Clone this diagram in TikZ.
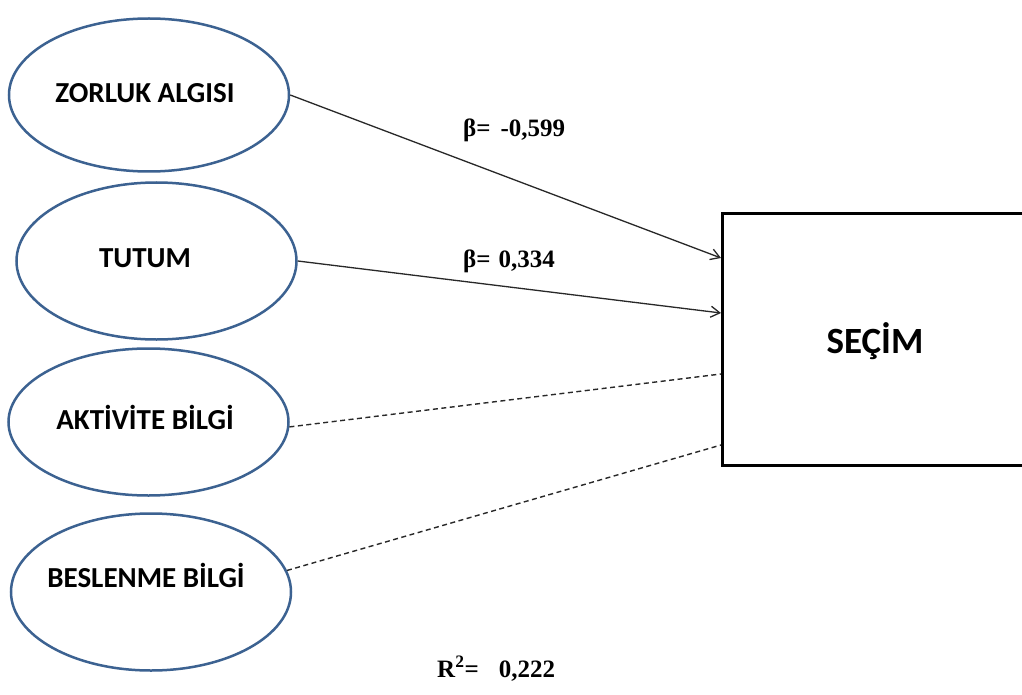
\documentclass[tikz,border=0pt]{standalone}
\usepackage{fontspec}
\setmainfont{Liberation Serif}
\newfontfamily\boxfont{Carlito}
\usetikzlibrary{shapes.geometric,arrows.meta}

\definecolor{latentblue}{RGB}{60,98,145}
\definecolor{pathgray}{RGB}{40,40,40}

\begin{document}
\begin{tikzpicture}[x=1pt,y=-1pt,
  latent/.style={ellipse, draw=latentblue, line width=2.5pt, inner sep=0pt,
                 minimum width=280pt, fill=white},
  varname/.style={font=\boxfont\bfseries\fontsize{29}{32}\selectfont, anchor=base, inner sep=0pt},
  coef/.style={font=\bfseries\fontsize{25}{28}\selectfont, anchor=base west, inner sep=0pt},
  effect/.style={draw=pathgray, line width=1.3pt, -{Straight Barb[length=9pt,width=11pt,line width=1.3pt]}},
  noeffect/.style={draw=pathgray, line width=1.4pt, dash pattern=on 5pt off 3.5pt}]

  \clip (0,0) rectangle (1022,695);
  \fill[white] (0,0) rectangle (1022,695);

  % predictors
  \node[latent, minimum height=153pt] (zor) at (149,95) {};
  \node[latent, minimum height=157pt] (tut) at (156.5,261) {};
  \node[latent, minimum height=147pt] (akt) at (148.5,422) {};
  \node[latent, minimum height=157pt] (bes) at (151,592) {};

  \node[varname] (tzor) at (145,103) {ZORLUK ALGISI};
  \node[varname] (ttut) at (145,267) {TUTUM};
  \node[varname] (takt) at (145,429) {AKTİVİTE BİLGİ};
  \node[varname] (tbes) at (146,587) {BESLENME BİLGİ};

  % outcome
  \node[draw, line width=3pt, minimum width=307.5pt, minimum height=252pt,
        inner sep=0pt] (sec) at (876.25,339.5) {};
  \node[font=\boxfont\bfseries\fontsize{37}{40}\selectfont, anchor=base, inner sep=0pt]
        (tsec) at (875,353) {SEÇİM};

  % paths
  \draw[effect] (zor.east) -- ([yshift=81.5pt]sec.west);
  \draw[effect] (tut.east) -- ([yshift=26.5pt]sec.west);
  \draw[noeffect] (akt.-2) -- ([yshift=-34.5pt]sec.west);
  \draw[noeffect] (bes.9) -- ([yshift=-105.5pt]sec.west);

  % coefficients
  \node[coef] (b1) at (463,137) {β=\hspace{10pt}-0,599};
  \node[coef] (b2) at (463,267) {β=\hspace{8pt}0,334};
  \node[coef] (r2) at (437,677) {R\textsuperscript{2}=\hspace{20pt}0,222};
\end{tikzpicture}
\end{document}
